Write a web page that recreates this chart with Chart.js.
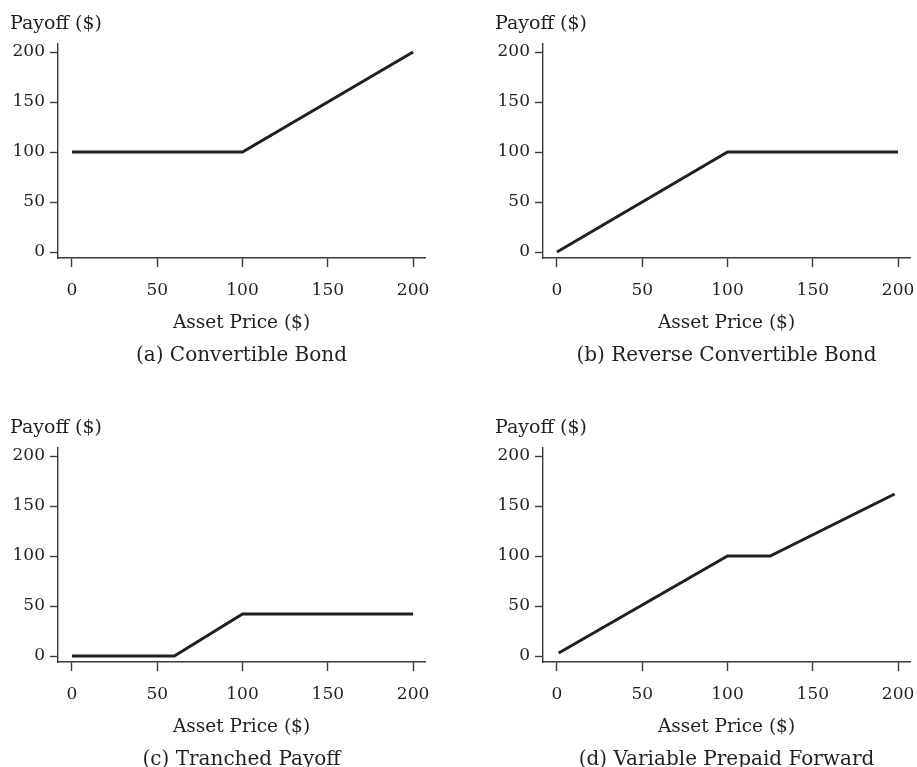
<!DOCTYPE html>
<html><head><meta charset="utf-8">
<script src="https://cdn.jsdelivr.net/npm/chart.js@4"></script>
<style>
html,body{margin:0;padding:0;background:#fff;overflow:hidden;width:917px;height:767px;}
canvas{position:absolute;}
</style></head><body>
<canvas id="pa" width="458" height="368" style="left:0;top:0"></canvas>
<canvas id="pb" width="432" height="368" style="left:485px;top:0"></canvas>
<canvas id="pc" width="458" height="368" style="left:0;top:404px"></canvas>
<canvas id="pd" width="432" height="368" style="left:485px;top:404px"></canvas>
<script>
const xTickValues = [0, 50, 100, 150, 200];
const yTickValues = [0, 50, 100, 150, 200];
const yAxisTitle = 'Payoff ($)';
const xAxisTitle = 'Asset Price ($)';
const captions = ['(a) Convertible Bond', '(b) Reverse Convertible Bond', '(c) Tranched Payoff', '(d) Variable Prepaid Forward'];

const convertiblePrice = [0, 100, 200];
const convertiblePayoff = [100, 100, 200];
const reversePrice = [0, 100, 200];
const reversePayoff = [0, 100, 100];
const tranchedPrice = [0, 60, 100, 200];
const tranchedPayoff = [0, 0, 42, 42];
const vpfPrice = [1, 100, 125, 198];
const vpfPayoff = [3, 100, 100, 162];

const ink = '#231f20';
const axisInk = '#3a3a3a';
const serif = "'DejaVu Serif', serif";

function makeChart(id, prices, payoffs, caption, padRight) {
  const pts = prices.map((p, i) => ({x: p, y: payoffs[i]}));
  new Chart(document.getElementById(id), {
    type: 'line',
    data: { datasets: [{ data: pts, borderColor: ink, borderWidth: 3, pointRadius: 0, tension: 0, fill: false }] },
    options: {
      responsive: false, animation: false,
      layout: { padding: { left: 10, right: padRight, top: 0, bottom: 0 } },
      plugins: {
        legend: { display: false }, tooltip: { enabled: false },
        title: { display: true, text: yAxisTitle, align: 'start', color: ink,
                 font: { family: serif, size: 19, weight: 'normal' }, padding: { top: 13, bottom: 8.2 } },
        subtitle: { display: true, text: caption, position: 'bottom', fullSize: false, color: ink,
                    font: { family: serif, size: 20, weight: 'normal' }, padding: { top: 8, bottom: 0 } }
      },
      scales: {
        x: {
          type: 'linear', min: -8.2, max: 207, bounds: 'data',
          afterBuildTicks: (s) => { s.ticks = xTickValues.map(v => ({value: v})); },
          afterFit: (s) => { s.height = 78; s.paddingLeft = 0; s.paddingRight = 0; },
          grid: { drawOnChartArea: false, drawTicks: true, tickLength: 9, tickColor: axisInk, tickWidth: 1.4 },
          border: { display: true, color: axisInk, width: 1.4 },
          ticks: { color: ink, font: { family: serif, size: 17 }, padding: 13, maxRotation: 0, autoSkip: false },
          title: { display: true, text: xAxisTitle, color: ink, font: { family: serif, size: 18.5 }, padding: { top: 0, bottom: 1.4 } }
        },
        y: {
          type: 'linear', min: -6, max: 208, bounds: 'data',
          afterBuildTicks: (s) => { s.ticks = yTickValues.map(v => ({value: v})); },
          afterFit: (s) => { s.width = 48; },
          grid: { drawOnChartArea: false, drawTicks: true, tickLength: 8, tickColor: axisInk, tickWidth: 1.4 },
          border: { display: true, color: axisInk, width: 1.4 },
          ticks: { color: ink, font: { family: serif, size: 17 }, padding: 5, autoSkip: false }
        }
      }
    }
  });
}
makeChart('pa', convertiblePrice, convertiblePayoff, captions[0], 33);
makeChart('pb', reversePrice, reversePayoff, captions[1], 7);
makeChart('pc', tranchedPrice, tranchedPayoff, captions[2], 33);
makeChart('pd', vpfPrice, vpfPayoff, captions[3], 7);
</script>
</body></html>
